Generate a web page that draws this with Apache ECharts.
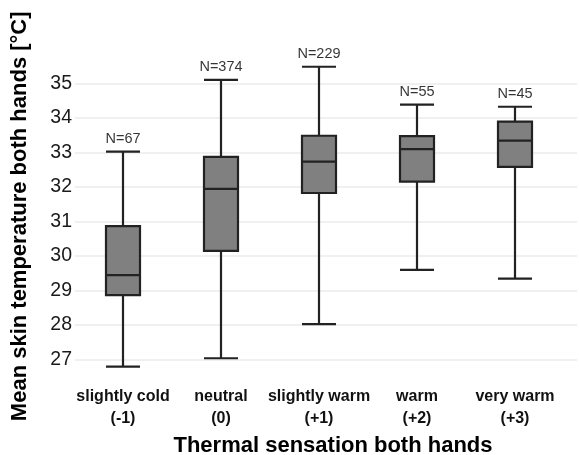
<!DOCTYPE html>
<html>
<head>
<meta charset="utf-8">
<script src="https://cdn.jsdelivr.net/npm/echarts@6/dist/echarts.min.js"></script>
<style>
html,body{margin:0;padding:0;background:#fff;}
#chart{width:579px;height:455px;}
</style>
</head>
<body>
<div id="chart"></div>
<script>
const categories = ['slightly cold\n(-1)', 'neutral\n(0)', 'slightly warm\n(+1)', 'warm\n(+2)', 'very warm\n(+3)'];
const whiskerLow = [26.79, 27.03, 28.02, 29.59, 29.34];
const q1 = [28.86, 30.14, 31.82, 32.15, 32.58];
const median = [29.44, 31.94, 32.73, 33.09, 33.34];
const q3 = [30.86, 32.87, 33.48, 33.47, 33.89];
const whiskerHigh = [33.02, 35.10, 35.48, 34.38, 34.32];
const counts = [67, 374, 229, 55, 45];
const yTickLabels = ['27', '28', '29', '30', '31', '32', '33', '34', '35'];

const boxData = categories.map((c, i) => [whiskerLow[i], q1[i], median[i], q3[i], whiskerHigh[i]]);
const nData = categories.map((c, i) => ({ value: [i, whiskerHigh[i]], n: counts[i] }));

const chart = echarts.init(document.getElementById('chart'), null, { renderer: 'canvas' });
const FONT = 'Liberation Sans, Arial, sans-serif';
chart.setOption({
  animation: false,
  backgroundColor: '#ffffff',
  grid: [
    { left: 75, right: 2, top: 48.8, bottom: 61.2, outerBoundsMode: 'none', containLabel: false },
    { left: 74, right: 15, top: 48.8, bottom: 78.45, outerBoundsMode: 'none', containLabel: false }
  ],
  xAxis: [
    { type: 'category', gridIndex: 0, data: categories, show: false },
    {
      type: 'category', gridIndex: 1, data: categories,
      axisLine: { show: false }, axisTick: { show: false },
      axisLabel: { interval: 0, margin: 9, fontFamily: FONT, fontSize: 16, fontWeight: 'bold', color: '#111', lineHeight: 22 },
      name: 'Thermal sensation both hands', nameLocation: 'middle', nameGap: 56,
      nameTextStyle: { fontFamily: FONT, fontSize: 22, fontWeight: 'bold', color: '#000', padding: [0, 0, 0, 28] }
    }
  ],
  yAxis: [
    {
      type: 'value', gridIndex: 0, min: 26, max: 36, interval: 1,
      axisLine: { show: false }, axisTick: { show: false },
      axisLabel: {
        fontFamily: FONT, fontSize: 19.5, color: '#1a1a1a', margin: 3,
        formatter: function (v) { const s = String(v); return yTickLabels.indexOf(s) >= 0 ? s : ''; }
      },
      splitLine: { show: true, showMinLine: false, showMaxLine: false, lineStyle: { color: '#ebebeb', width: 1.5 } },
      name: 'Mean skin temperature both hands [°C]', nameLocation: 'middle', nameGap: 44,
      nameTextStyle: { fontFamily: FONT, fontSize: 22, fontWeight: 'bold', color: '#000', padding: [0, 0, 0, 10] }
    },
    { type: 'value', gridIndex: 1, min: 26.5, max: 36, show: false, splitLine: { show: false } }
  ],
  series: [
    {
      type: 'boxplot', xAxisIndex: 1, yAxisIndex: 1,
      data: boxData,
      boxWidth: [34, 34],
      itemStyle: { color: '#808080', borderColor: '#222222', borderWidth: 2.2 },
      emphasis: { disabled: true }
    },
    {
      type: 'scatter', xAxisIndex: 1, yAxisIndex: 1,
      data: nData, symbolSize: 1, itemStyle: { color: 'rgba(0,0,0,0)' },
      label: {
        show: true, position: 'top', distance: 5,
        fontFamily: FONT, fontSize: 14.5, color: '#000',
        formatter: function (p) { return 'N=' + p.data.n; }
      },
      emphasis: { disabled: true }
    }
  ]
});
</script>
</body>
</html>
